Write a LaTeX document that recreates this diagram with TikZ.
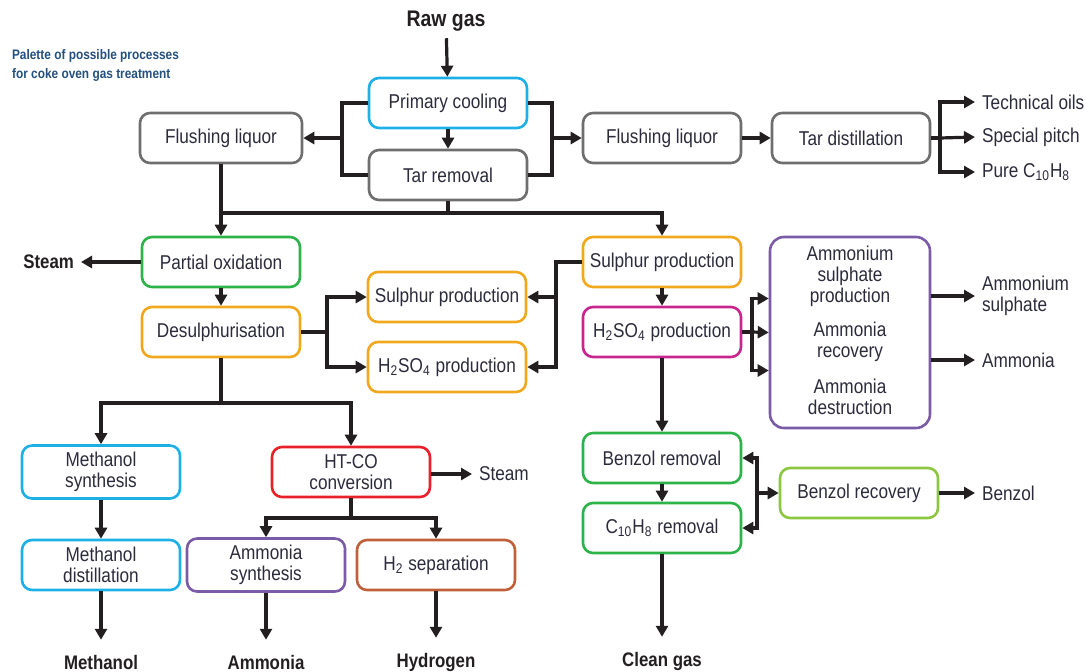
\documentclass[tikz,border=0pt]{standalone}
\usepackage{fontspec}
\setmainfont[FakeStretch=0.86]{Liberation Sans}
\usetikzlibrary{arrows.meta}

\definecolor{cyanbox}{HTML}{1DAFE6}
\definecolor{greybox}{HTML}{6E6E6E}
\definecolor{greenbox}{HTML}{2DB34A}
\definecolor{orangebox}{HTML}{F0A91E}
\definecolor{magentabox}{HTML}{C8268F}
\definecolor{purplebox}{HTML}{7B5BA6}
\definecolor{redbox}{HTML}{E8202A}
\definecolor{brownbox}{HTML}{C0603A}
\definecolor{limebox}{HTML}{8DC63F}
\definecolor{boxtext}{HTML}{2B2B3B}
\definecolor{paltext}{HTML}{24507F}
\definecolor{flow}{HTML}{231F20}

\begin{document}
\begin{tikzpicture}[x=0.5pt,y=-0.5pt,
    box/.style={draw, rounded corners=5pt, line width=1.3pt, minimum width=79pt,
      minimum height=25pt, align=center, text=boxtext,
      font=\fontsize{10}{10.5}\selectfont},
    txt/.style={text=boxtext, align=left, font=\fontsize{10}{10.5}\selectfont},
    outlabel/.style={text=flow, font=\fontsize{9.8}{11}\selectfont\bfseries},
    ln/.style={draw=flow, line width=1.6pt},
    arr/.style={ln, -{Triangle[length=5.5pt,width=6pt]}}]
  \useasboundingbox (0,0) rectangle (1085,671);

  % top part
  \node[outlabel, font=\fontsize{11.3}{13}\selectfont\bfseries] (raw) at (446,21) {Raw gas};
  \node[anchor=west, align=left, text=paltext, font=\fontsize{6.9}{9.5}\selectfont\bfseries] (pal) at (5,65)
    {Palette of possible processes\\for coke oven gas treatment};
  \node[box, draw=cyanbox] (pc) at (448,103) {Primary cooling};
  \node[box, draw=greybox] (tr) at (448,175) {Tar removal};
  \node[box, draw=greybox, minimum width=81pt] (fl1) at (221,138) {Flushing liquor};
  \node[box, draw=greybox] (fl2) at (662,138) {Flushing liquor};
  \node[box, draw=greybox] (td) at (851,138) {Tar distillation};
  \node[txt, anchor=west] (oils) at (975,102) {Technical oils};
  \node[txt, anchor=west] (pitch) at (975,137) {Special pitch};
  \node[txt, anchor=west] (naph) at (975,172) {Pure C\textsubscript{10}H\textsubscript{8}};

  \coordinate (lj) at (342,138);
  \coordinate (rj) at (552,138);
  \coordinate (tdj) at (940,138);
  \coordinate (bus) at (0,213);
  \draw[arr] (raw) -- (pc);
  \draw[arr] (pc) -- (tr);
  \draw[ln] (pc.west) -| (lj) |- (tr.west);
  \draw[ln] (pc.east) -| (rj) |- (tr.east);
  \draw[arr] (lj) -- (fl1.east);
  \draw[arr] (rj) -- (fl2.west);
  \draw[arr] (fl2) -- (td);
  \draw[ln] (td.east) -- (tdj);
  \draw[arr] (tdj) |- (oils.west);
  \draw[arr] (tdj) -- (pitch.west);
  \draw[arr] (tdj) |- (naph.west);

  % middle part
  \node[box, draw=greenbox] (po) at (221,262) {Partial oxidation};
  \node[outlabel, anchor=east] (steam1) at (81,262) {Steam};
  \node[box, draw=orangebox] (ds) at (221,332) {Desulphurisation};
  \node[box, draw=orangebox] (sp1) at (447,297) {Sulphur production};
  \node[box, draw=orangebox] (hs1) at (447,367) {H\textsubscript{2}SO\textsubscript{4} production};
  \node[box, draw=orangebox] (sp2) at (662,262) {Sulphur production};
  \node[box, draw=magentabox] (hs2) at (662,332) {H\textsubscript{2}SO\textsubscript{4} production};
  \node[draw=purplebox, rounded corners=7pt, line width=1.3pt, minimum width=80pt,
    minimum height=95.5pt] (amm) at (850,332.5) {};
  \node[box, draw=none] (a1) at (850,276) {Ammonium\\sulphate\\production};
  \node[box, draw=none] (a2) at (850,342) {Ammonia\\recovery};
  \node[box, draw=none] (a3) at (850,397) {Ammonia\\destruction};
  \node[txt, anchor=west] (asul) at (975,296) {Ammonium\\sulphate};
  \node[txt, anchor=west] (amo) at (975,360) {Ammonia};

  \coordinate (dj) at (327,332);
  \coordinate (sj) at (556,297);
  \coordinate (hj) at (752,332);
  \draw[ln] (tr.south) -- (tr.south |- bus);
  \draw[arr] (fl1.south) -- (po.north);
  \draw[arr] (fl1.south |- bus) -| (sp2.north);
  \draw[arr] (po) -- (steam1);
  \draw[arr] (po) -- (ds);
  \draw[ln] (ds.east) -- (dj);
  \draw[arr] (dj) |- (sp1.west);
  \draw[arr] (dj) |- (hs1.west);
  \draw[arr] (sp2.west) -| (sj) |- (hs1.east);
  \draw[arr] (sj) -- (sp1.east);
  \draw[arr] (sp2) -- (hs2);
  \draw[ln] (hs2.east) -- (hj);
  \draw[arr] (hj) |- ([yshift=17pt]amm.west);
  \draw[arr] (hj) -- (amm.west);
  \draw[arr] (hj) |- ([yshift=-19pt]amm.west);
  \draw[arr] (amm.east |- asul) -- (asul.west);
  \draw[arr] (amm.east |- amo) -- (amo.west);

  % bottom right
  \node[box, draw=greenbox] (brm) at (662,458) {Benzol removal};
  \node[box, draw=greenbox] (nrm) at (662,528) {C\textsubscript{10}H\textsubscript{8} removal};
  \node[box, draw=limebox] (brec) at (859,493) {Benzol recovery};
  \node[txt, anchor=west] (benz) at (975,493) {Benzol};
  \node[outlabel] (clean) at (662,661) {Clean gas};

  \coordinate (bj) at (757,493);
  \draw[arr] (hs2) -- (brm);
  \draw[arr] (brm) -- (nrm);
  \draw[arr] (bj) -- (brec.west);
  \draw[arr] (bj) |- (brm.east);
  \draw[arr] (bj) |- (nrm.east);
  \draw[arr] (brec) -- (benz);
  \draw[arr, shorten >=4pt] (nrm) -- (clean);

  % bottom left
  \node[box, draw=cyanbox] (ms) at (101,472) {Methanol\\synthesis};
  \node[box, draw=cyanbox] (md) at (101,565) {Methanol\\distillation};
  \node[box, draw=redbox] (ht) at (351,472) {HT-CO\\conversion};
  \node[txt, anchor=west] (steam2) at (472,474) {Steam};
  \node[box, draw=purplebox] (as) at (266,565) {Ammonia\\synthesis};
  \node[box, draw=brownbox] (h2) at (436,565) {H\textsubscript{2} separation};
  \node[outlabel] (meth) at (101,662) {Methanol};
  \node[outlabel] (amon) at (266,662) {Ammonia};
  \node[outlabel] (hyd) at (436,662) {Hydrogen};

  \coordinate (dbus) at (221,403);
  \coordinate (hbus) at (351,518);
  \draw[ln] (ds) -- (dbus);
  \draw[arr] (dbus) -| (ms.north);
  \draw[arr] (dbus) -| (ht.north);
  \draw[arr] (ms) -- (md);
  \draw[arr] (ht.east |- steam2) -- (steam2.west);
  \draw[ln] (ht) -- (hbus);
  \draw[arr] (hbus) -| (as.north);
  \draw[arr] (hbus) -| (h2.north);
  \draw[arr, shorten >=4pt] (md) -- (meth);
  \draw[arr, shorten >=4pt] (as) -- (amon);
  \draw[arr, shorten >=4pt] (h2) -- (hyd);
\end{tikzpicture}
\end{document}
